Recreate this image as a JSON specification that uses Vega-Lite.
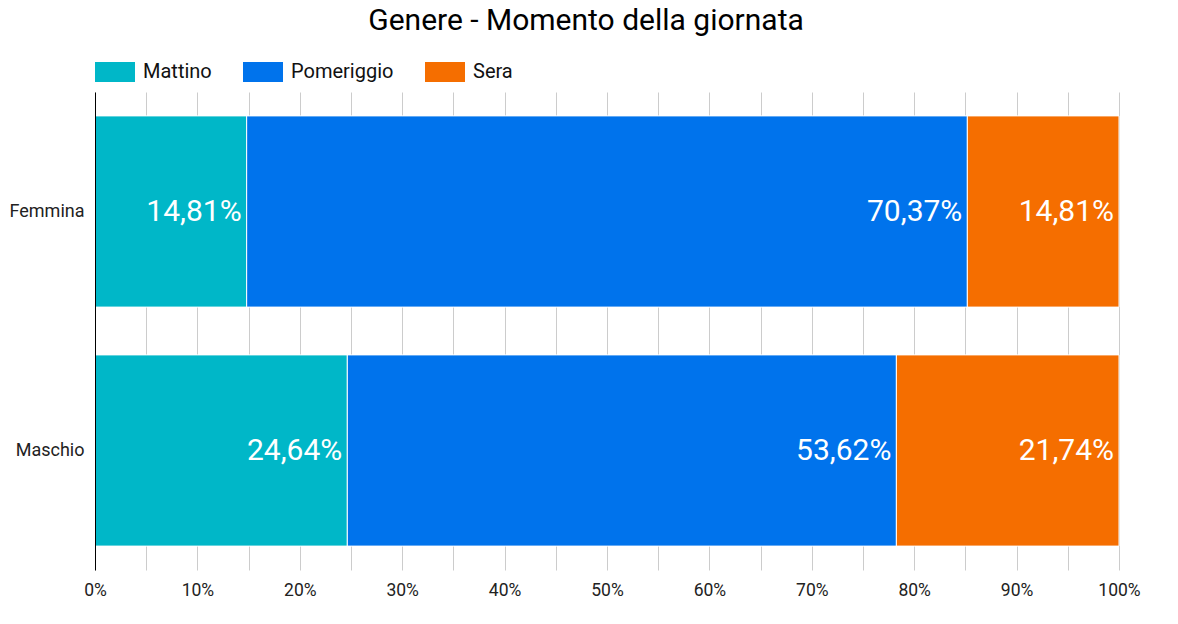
{
  "$schema": "https://vega.github.io/schema/vega-lite/v6.json",
  "width": 1024,
  "height": 478,
  "autosize": {"type": "none"},
  "padding": {"left": 95, "top": 92, "right": 59, "bottom": 54},
  "background": "white",
  "title": {
    "text": "Genere - Momento della giornata",
    "font": "Roboto",
    "fontSize": 30,
    "fontWeight": "normal",
    "color": "#000000",
    "anchor": "middle",
    "dx": -21,
    "offset": 16
  },
  "data": {
    "values": [
      {"genere": "Femmina", "momento": "Mattino", "valore": 0.1481},
      {"genere": "Femmina", "momento": "Pomeriggio", "valore": 0.7037},
      {"genere": "Femmina", "momento": "Sera", "valore": 0.1481},
      {"genere": "Maschio", "momento": "Mattino", "valore": 0.2464},
      {"genere": "Maschio", "momento": "Pomeriggio", "valore": 0.5362},
      {"genere": "Maschio", "momento": "Sera", "valore": 0.2174}
    ]
  },
  "encoding": {
    "y": {
      "field": "genere",
      "type": "nominal",
      "sort": ["Femmina", "Maschio"],
      "scale": {"paddingInner": 0.2, "paddingOuter": 0.1},
      "axis": {
        "title": null,
        "domain": true,
        "domainColor": "#000000",
        "domainWidth": 1,
        "ticks": false,
        "grid": false,
        "zindex": 1,
        "labelFont": "Roboto",
        "labelFontSize": 18,
        "labelColor": "#222222",
        "labelPadding": 11
      }
    },
    "x": {
      "field": "valore",
      "type": "quantitative",
      "stack": "normalize",
      "scale": {"domain": [0, 1], "nice": false},
      "axis": {
        "title": null,
        "domain": false,
        "ticks": false,
        "grid": true,
        "gridColor": "#cccccc",
        "gridWidth": 1,
        "values": [0, 0.05, 0.1, 0.15, 0.2, 0.25, 0.3, 0.35, 0.4, 0.45, 0.5, 0.55, 0.6, 0.65, 0.7, 0.75, 0.8, 0.85, 0.9, 0.95, 1],
        "format": ".0%",
        "labelExpr": "round(datum.value*100) % 10 == 0 ? datum.label : ''",
        "labelFont": "Roboto",
        "labelFontSize": 17.5,
        "labelColor": "#222222",
        "labelPadding": 11,
        "labelBaseline": "top",
        "labelOverlap": false,
        "labelFlush": false
      }
    },
    "order": {"field": "momento", "type": "nominal"}
  },
  "layer": [
    {
      "mark": {"type": "bar", "stroke": "white", "strokeWidth": 1},
      "encoding": {
        "color": {
          "field": "momento",
          "type": "nominal",
          "scale": {
            "domain": ["Mattino", "Pomeriggio", "Sera"],
            "range": ["#00b7c8", "#0073ec", "#f56e00"]
          },
          "legend": {
            "title": null,
            "orient": "none",
            "direction": "horizontal",
            "legendX": 0,
            "legendY": -40,
            "symbolType": "M-1,-0.5H1V0.5H-1Z",
            "symbolSize": 1600,
            "symbolStrokeWidth": 0,
            "symbolOpacity": 1,
            "labelFont": "Roboto",
            "labelFontSize": 20,
            "labelColor": "#111111",
            "labelOffset": 8,
            "columnPadding": 31
          }
        }
      }
    },
    {
      "mark": {
        "type": "text",
        "align": "right",
        "baseline": "middle",
        "dx": -5,
        "font": "Roboto",
        "fontSize": 30,
        "color": "white"
      },
      "encoding": {
        "detail": {"field": "momento", "type": "nominal"},
        "text": {"field": "valore", "type": "quantitative", "format": ".2%"}
      }
    }
  ],
  "config": {
    "view": {"stroke": null},
    "locale": {
      "number": {
        "decimal": ",",
        "thousands": ".",
        "grouping": [3],
        "currency": ["€", ""]
      }
    }
  }
}
